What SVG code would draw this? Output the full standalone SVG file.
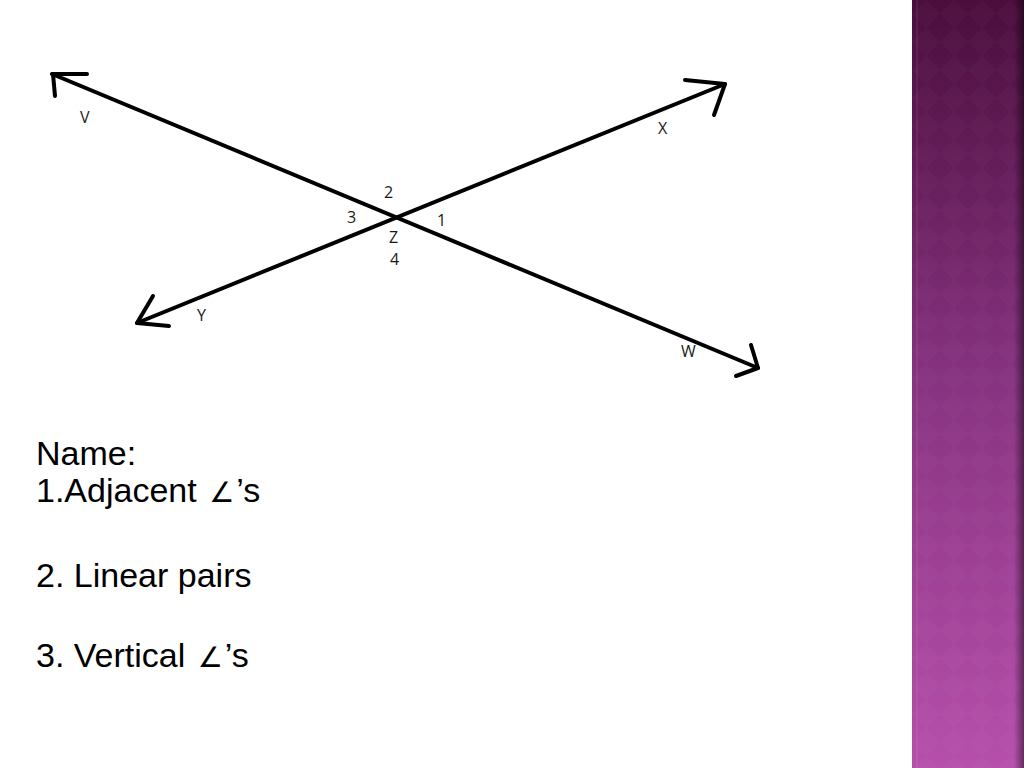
<svg xmlns="http://www.w3.org/2000/svg" width="1024" height="768" viewBox="0 0 1024 768">
<defs>
<linearGradient id="bar" x1="0" y1="0" x2="0" y2="1">
<stop offset="0" stop-color="#4a0d3c"/>
<stop offset="0.5" stop-color="#883381"/>
<stop offset="1" stop-color="#b64fab"/>
</linearGradient>
<linearGradient id="edge" x1="0" y1="0" x2="1" y2="0">
<stop offset="0" stop-color="#000" stop-opacity="0"/>
<stop offset="1" stop-color="#000" stop-opacity="0.45"/>
</linearGradient>
<pattern id="diam" width="28" height="28" patternUnits="userSpaceOnUse" x="912">
<path d="M14 0 L28 14 L14 28 L0 14 Z" fill="#fff" fill-opacity="0.018"/>
</pattern>
</defs>
<style>
.ln{stroke:#000;stroke-width:4;fill:none;stroke-linecap:round;stroke-linejoin:round}
.lbl{font-family:"Open Sans","Liberation Sans",sans-serif;font-size:16px;fill:#1a1a1a}
.txt{font-family:"Liberation Sans",Arial,sans-serif;font-size:34px;fill:#000}
.ang{font-family:"DejaVu Sans",sans-serif;font-size:28px}
</style>
<rect width="1024" height="768" fill="#fff"/>
<g id="sidebar">
<rect x="912" y="0" width="112" height="768" fill="url(#bar)"/>
<rect x="912" y="0" width="112" height="768" fill="url(#diam)"/>
<rect x="916" y="0" width="2" height="768" fill="#fff" fill-opacity="0.06"/>
<rect x="1014" y="0" width="10" height="768" fill="url(#edge)"/>
</g>
<g id="connectors">
<line class="ln" x1="52" y1="74" x2="758" y2="368"/>
<line class="ln" x1="725" y1="84" x2="137" y2="323"/>
<polyline class="ln" points="87,74 53,74 55,96"/>
<polyline class="ln" points="685,80 725,84 714,115"/>
<polyline class="ln" points="153,296 137,323 169,326"/>
<polyline class="ln" points="751,345 758,368 736,376"/>
</g>
<g id="labels">
<text class="lbl" x="80" y="123">V</text>
<text class="lbl" x="658" y="134">X</text>
<text class="lbl" x="197" y="321">Y</text>
<text class="lbl" x="681" y="357">W</text>
<text class="lbl" x="384" y="198">2</text>
<text class="lbl" x="347" y="223">3</text>
<text class="lbl" x="437" y="226">1</text>
<text class="lbl" x="389" y="243">Z</text>
<text class="lbl" x="390" y="265">4</text>
</g>
<g id="text">
<text class="txt" x="36" y="465">Name:</text>
<text class="txt" x="36" y="502">1.Adjacent <tspan class="ang" dx="3">∠</tspan><tspan dx="2">’s</tspan></text>
<text class="txt" x="36" y="587">2. Linear pairs</text>
<text class="txt" x="36" y="667">3. Vertical <tspan class="ang" dx="3">∠</tspan><tspan dx="2">’s</tspan></text>
</g>
</svg>
